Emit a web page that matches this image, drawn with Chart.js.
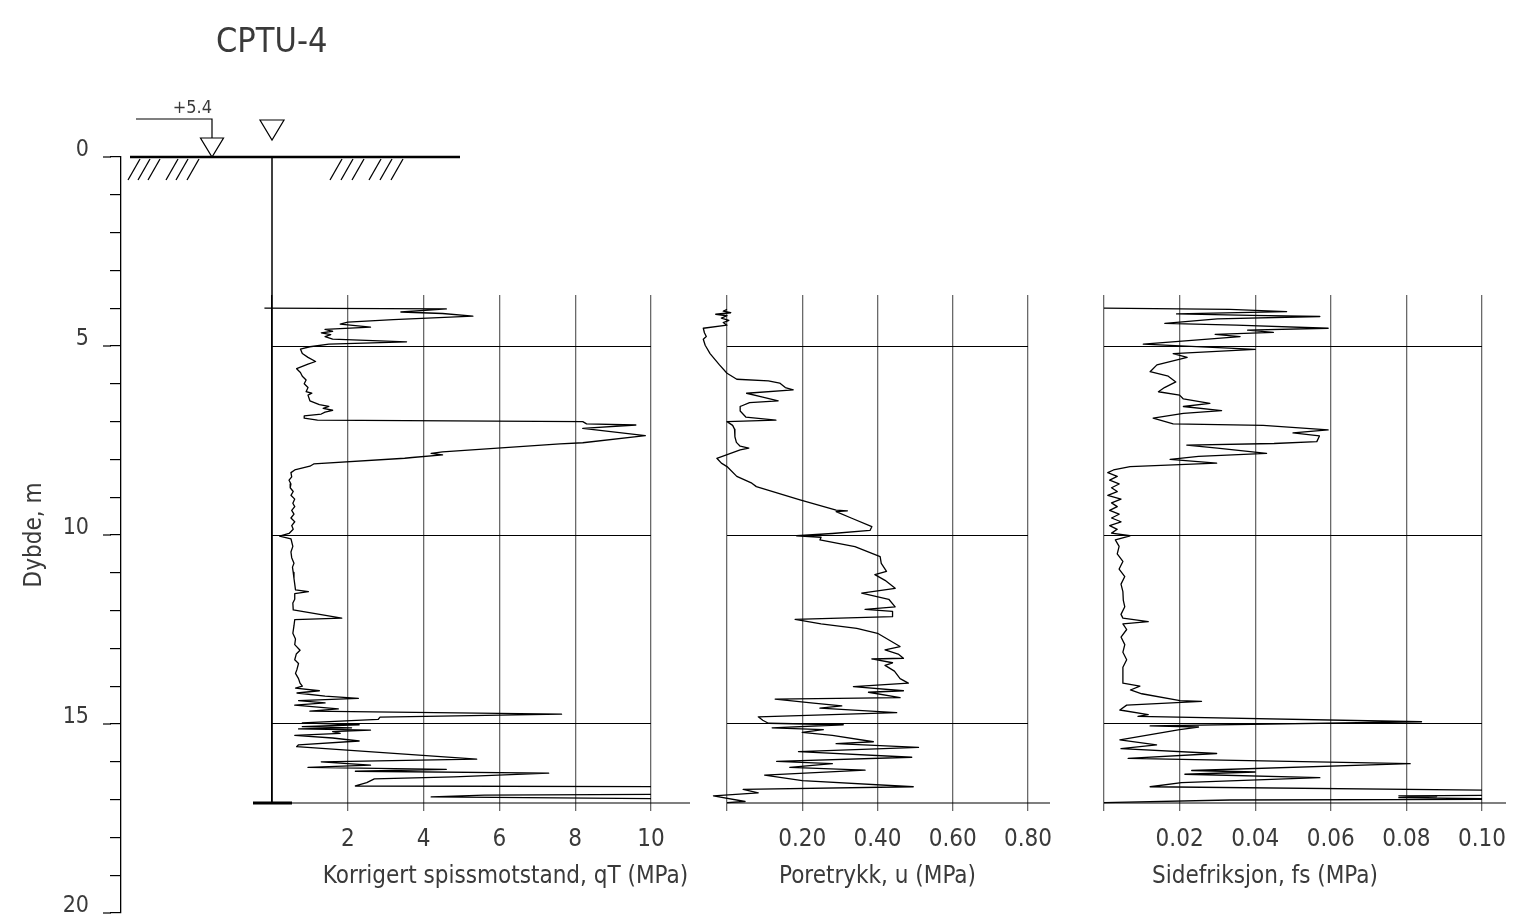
<!DOCTYPE html>
<html>
<head>
<meta charset="utf-8">
<title>CPTU-4</title>
<script src="https://cdn.jsdelivr.net/npm/chart.js@4.4.1/dist/chart.umd.min.js"></script>
<style>
  body { margin: 0; background: #fff; }
  #wrap { position: relative; width: 1514px; height: 919px; }
  #wrap canvas { position: absolute; left: 0; top: 0; }
</style>
</head>
<body>
<div id="wrap">
  <canvas id="depthChart" width="1514" height="919"></canvas>
  <canvas id="qtChart" width="1514" height="919"></canvas>
  <canvas id="uChart" width="1514" height="919"></canvas>
  <canvas id="fsChart" width="1514" height="919"></canvas>
</div>
<script>
// ---- data (depth in m) ----
var depthLabels = [0, 5, 10, 15, 20];
var gridDepths = [5, 10, 15];

var qtTicks = [0, 2, 4, 6, 8, 10];
var uTicks = [0, 0.2, 0.4, 0.6, 0.8];
var fsTicks = [0, 0.02, 0.04, 0.06, 0.08, 0.1];

// korrigert spissmotstand qT (MPa)
var qtDepth = [
  4.00, 4.02, 4.10, 4.14, 4.21, 4.30, 4.37, 4.42, 4.50, 4.56,
  4.61, 4.65, 4.70, 4.75, 4.82, 4.89, 4.95, 5.02, 5.08, 5.20,
  5.30, 5.41, 5.48, 5.60, 5.70, 5.80, 5.90, 6.00, 6.10, 6.21,
  6.25, 6.30, 6.45, 6.55, 6.60, 6.65, 6.70, 6.75, 6.80, 6.85,
  6.91, 6.96, 7.00, 7.06, 7.09, 7.18, 7.37, 7.56, 7.59, 7.80,
  7.84, 7.88, 7.95, 7.97, 8.12, 8.18, 8.28, 8.35, 8.46, 8.55,
  8.65, 8.75, 8.85, 8.95, 9.05, 9.16, 9.25, 9.35, 9.45, 9.55,
  9.65, 9.75, 9.85, 9.96, 10.03, 10.10, 10.30, 10.45, 10.60, 10.75,
  10.85, 10.99, 11.15, 11.30, 11.45, 11.50, 11.55, 11.70, 11.80, 11.98,
  12.20, 12.24, 12.40, 12.60, 12.75, 12.90, 13.05, 13.15, 13.30, 13.40,
  13.55, 13.66, 13.80, 13.92, 14.00, 14.05, 14.12, 14.18, 14.26, 14.32,
  14.38, 14.44, 14.50, 14.60, 14.66, 14.74, 14.82, 14.88, 14.97, 15.02,
  15.07, 15.10, 15.13, 15.16, 15.20, 15.25, 15.30, 15.37, 15.45, 15.55,
  15.60, 15.93, 16.00, 16.09, 16.15, 16.20, 16.25, 16.30, 16.40, 16.45,
  16.55, 16.64, 16.66, 16.85, 16.88, 16.93, 16.99, 17.05
];
var qtValue = [
  -0.2, 4.6, 3.4, 4.5, 5.3, 3.2, 2.0, 1.8, 2.6, 1.4,
  1.6, 1.3, 1.55, 1.4, 1.6, 3.55, 1.5, 1.0, 0.75, 0.8,
  0.95, 1.15, 0.95, 0.65, 0.75, 0.8, 0.9, 0.85, 0.95, 0.9,
  1.05, 0.95, 1.0, 1.25, 1.5, 1.35, 1.6, 1.4, 1.3, 0.85,
  0.85, 1.2, 8.2, 8.3, 9.6, 8.2, 9.85, 8.2, 7.6, 4.5,
  4.2, 4.5, 3.7, 3.5, 1.1, 1.0, 0.6, 0.5, 0.52, 0.45,
  0.5, 0.48, 0.56, 0.5, 0.6, 0.55, 0.6, 0.52, 0.58, 0.5,
  0.6, 0.52, 0.56, 0.45, 0.2, 0.5, 0.55, 0.5, 0.52, 0.58,
  0.54, 0.56, 0.58, 0.6, 0.62, 0.96, 0.6, 0.6, 0.55, 0.56,
  1.84, 0.6, 0.58, 0.55, 0.62, 0.6, 0.74, 0.64, 0.6, 0.7,
  0.66, 0.62, 0.7, 0.74, 0.8, 0.62, 1.25, 0.66, 1.4, 2.28,
  0.7, 1.4, 0.6, 1.75, 1.0, 7.64, 2.85, 2.8, 0.8, 2.3,
  0.8, 2.1, 0.7, 2.6, 1.6, 1.8, 0.6, 1.6, 2.3, 0.7,
  0.65, 5.4, 1.3, 2.6, 0.95, 4.6, 2.2, 7.3, 4.8, 2.7,
  2.5, 2.2, 12, 12, 5.6, 4.2, 12, 12
];

// poretrykk u (MPa)
var uDepth = [
  4.03, 4.08, 4.12, 4.16, 4.20, 4.26, 4.32, 4.38, 4.45, 4.53,
  4.65, 4.75, 4.82, 4.98, 5.20, 5.50, 5.72, 5.88, 5.92, 5.98,
  6.10, 6.16, 6.25, 6.35, 6.45, 6.50, 6.60, 6.72, 6.88, 6.96,
  7.00, 7.10, 7.20, 7.40, 7.55, 7.65, 7.70, 7.75, 7.97, 8.10,
  8.19, 8.45, 8.63, 8.72, 9.07, 9.34, 9.36, 9.38, 9.55, 9.78,
  9.88, 9.96, 10.02, 10.06, 10.13, 10.31, 10.57, 10.75, 10.96, 11.05,
  11.20, 11.41, 11.54, 11.70, 11.90, 11.97, 12.02, 12.16, 12.23, 12.35,
  12.47, 12.60, 12.95, 13.04, 13.15, 13.26, 13.28, 13.38, 13.45, 13.60,
  13.80, 13.92, 14.01, 14.12, 14.16, 14.30, 14.34, 14.45, 14.52, 14.58,
  14.70, 14.81, 14.90, 14.98, 15.02, 15.10, 15.15, 15.22, 15.30, 15.47,
  15.52, 15.62, 15.73, 15.88, 15.99, 16.05, 16.15, 16.22, 16.35, 16.50,
  16.66, 16.73, 16.82, 16.90, 17.05, 17.08
];
var uValue = [
  0.0, -0.01, 0.01, -0.03, 0.0, -0.015, 0.005, -0.01, 0.0, -0.063,
  -0.06, -0.055, -0.063, -0.058, -0.045, -0.02, 0.0, 0.026, 0.11, 0.14,
  0.155, 0.176, 0.052, 0.095, 0.136, 0.06, 0.035, 0.035, 0.05, 0.13,
  0.0, 0.015, 0.02, 0.021, 0.025, 0.035, 0.058, 0.035, -0.027, -0.015,
  0.0, 0.026, 0.066, 0.078, 0.194, 0.29, 0.32, 0.29, 0.33, 0.385,
  0.38, 0.28, 0.185, 0.25, 0.247, 0.34, 0.407, 0.41, 0.424, 0.393,
  0.42, 0.447, 0.358, 0.43, 0.447, 0.367, 0.44, 0.44, 0.181, 0.25,
  0.345, 0.4, 0.46, 0.42, 0.455, 0.469, 0.385, 0.44, 0.42, 0.445,
  0.46, 0.482, 0.336, 0.469, 0.376, 0.46, 0.128, 0.23, 0.305, 0.247,
  0.451, 0.083, 0.095, 0.11, 0.309, 0.12, 0.256, 0.2, 0.28, 0.389,
  0.29, 0.509, 0.19, 0.491, 0.132, 0.28, 0.167, 0.367, 0.1, 0.2,
  0.495, 0.043, 0.083, -0.036, 0.048, 0.0
];

// sidefriksjon fs (MPa)
var fsDepth = [
  4.00, 4.03, 4.09, 4.15, 4.19, 4.22, 4.28, 4.40, 4.45, 4.53,
  4.58, 4.64, 4.69, 4.75, 4.95, 5.09, 5.20, 5.30, 5.50, 5.68,
  5.80, 5.95, 6.10, 6.21, 6.30, 6.40, 6.52, 6.60, 6.71, 6.78,
  6.91, 7.06, 7.10, 7.22, 7.30, 7.38, 7.53, 7.58, 7.62, 7.70,
  7.84, 7.92, 8.00, 8.10, 8.19, 8.28, 8.35, 8.45, 8.55, 8.65,
  8.75, 8.85, 8.95, 9.05, 9.15, 9.25, 9.35, 9.45, 9.55, 9.65,
  9.75, 9.85, 9.95, 10.02, 10.13, 10.30, 10.50, 10.70, 10.90, 11.10,
  11.30, 11.50, 11.72, 11.90, 12.10, 12.20, 12.29, 12.35, 12.50, 12.70,
  12.90, 13.10, 13.30, 13.50, 13.70, 13.92, 14.00, 14.10, 14.20, 14.38,
  14.40, 14.50, 14.63, 14.75, 14.80, 14.94, 15.05, 15.08, 15.15, 15.42,
  15.55, 15.65, 15.78, 15.91, 16.05, 16.23, 16.27, 16.33, 16.42, 16.55,
  16.66, 16.76, 16.88, 16.90, 16.92, 16.95, 16.99, 17.01, 17.08
];
var fsValue = [
  0, 0.0333, 0.0483, 0.0192, 0.039, 0.0571, 0.03, 0.0161, 0.035, 0.0593,
  0.038, 0.0448, 0.0294, 0.036, 0.0104, 0.04, 0.0183, 0.022, 0.014, 0.0122,
  0.017, 0.019, 0.016, 0.0144, 0.02, 0.021, 0.028, 0.021, 0.0311, 0.021,
  0.013, 0.0183, 0.0421, 0.0593, 0.05, 0.057, 0.0563, 0.045, 0.0219, 0.03,
  0.043, 0.025, 0.0175, 0.0298, 0.0069, 0.0025, 0.001, 0.0035, 0.0015, 0.004,
  0.002, 0.0035, 0.001, 0.0045, 0.002, 0.0035, 0.0015, 0.004, 0.002, 0.0045,
  0.0015, 0.0035, 0.002, 0.0069, 0.003, 0.004, 0.0035, 0.005, 0.004, 0.0055,
  0.0045, 0.005, 0.0051, 0.0055, 0.0045, 0.005, 0.0117, 0.005, 0.006, 0.0045,
  0.0055, 0.005, 0.006, 0.005, 0.005, 0.005, 0.0095, 0.007, 0.01, 0.0201,
  0.0258, 0.006, 0.0042, 0.0117, 0.009, 0.084, 0.0122, 0.025, 0.02, 0.0042,
  0.0139, 0.0045, 0.0298, 0.0064, 0.081, 0.0232, 0.04, 0.0214, 0.0571, 0.0205,
  0.0122, 0.11, 0.11, 0.078, 0.088, 0.078, 0.11, 0.0333, 0
];

// ---- layout ----
var W = 1514, H = 919;
var FONT = '"DejaVu Sans Condensed", "Liberation Sans Narrow", sans-serif';
var TEXT = '#3a3a3a';
var DEPTH_TOP = 157, DEPTH_BOTTOM = 913;   // 0 m and 20 m
var PANEL_TOP = 295, PANEL_BOTTOM = 803;
var AXIS_H = 100;
var pxPerM = (DEPTH_BOTTOM - DEPTH_TOP) / 20;
var panelMinDepth = (PANEL_TOP - DEPTH_TOP) / pxPerM;
var panelMaxDepth = (PANEL_BOTTOM - DEPTH_TOP) / pxPerM;

function line(ctx, x1, y1, x2, y2) {
  ctx.beginPath();
  ctx.moveTo(x1, y1);
  ctx.lineTo(x2, y2);
  ctx.stroke();
}

// longer tick marks at every 5 m
var majorTicks = {
  id: 'majorTicks',
  afterDraw: function (chart) {
    var s = chart.scales.y, ctx = chart.ctx;
    ctx.save();
    ctx.strokeStyle = '#000';
    ctx.lineWidth = 1.2;
    depthLabels.forEach(function (v) {
      var y = s.getPixelForValue(v);
      line(ctx, s.right - 18, y, s.right - 10, y);
    });
    ctx.restore();
  }
};

// bottom line + axis title of a panel
var panelFrame = {
  id: 'panelFrame',
  afterDraw: function (chart, args, opts) {
    var ctx = chart.ctx, a = chart.chartArea;
    ctx.save();
    ctx.strokeStyle = '#000';
    ctx.lineWidth = 1.2;
    line(ctx, a.left - opts.extLeft, a.bottom, a.right + opts.extRight, a.bottom);
    ctx.fillStyle = TEXT;
    ctx.font = '24px ' + FONT;
    ctx.textAlign = 'center';
    ctx.textBaseline = 'middle';
    ctx.fillText(opts.title, (a.left + a.right) / 2 + opts.titleDx, 877);
    ctx.restore();
  }
};

// terrain, borehole and water level symbols, drawn with the qT panel
var groundPlugin = {
  id: 'ground',
  afterDraw: function (chart) {
    var ctx = chart.ctx;
    var x0 = chart.scales.x.getPixelForValue(0);
    var yTop = chart.scales.y.getPixelForValue(0);
    var yEnd = chart.chartArea.bottom;
    ctx.save();
    ctx.strokeStyle = '#000';
    ctx.lineWidth = 2.5;
    line(ctx, x0 - 142, yTop, x0 + 188, yTop);
    ctx.lineWidth = 1.3;
    [-144, -134, -124, -106, -96, -85, 58, 69, 80, 97, 108, 119].forEach(function (dx) {
      line(ctx, x0 + dx, yTop + 23, x0 + dx + 12, yTop + 2);
    });
    // borehole
    ctx.lineWidth = 1.5;
    line(ctx, x0, yTop, x0, yEnd);
    ctx.lineWidth = 3;
    line(ctx, x0 - 19, yEnd, x0 + 20, yEnd);
    // terrain level +5.4
    var tx = x0 - 60;
    ctx.lineWidth = 1.2;
    ctx.beginPath();
    ctx.moveTo(x0 - 136, yTop - 38);
    ctx.lineTo(tx, yTop - 38);
    ctx.lineTo(tx, yTop - 19);
    ctx.stroke();
    ctx.beginPath();
    ctx.moveTo(tx - 11.5, yTop - 19);
    ctx.lineTo(tx + 11.5, yTop - 19);
    ctx.lineTo(tx, yTop);
    ctx.closePath();
    ctx.stroke();
    // water level
    ctx.beginPath();
    ctx.moveTo(x0 - 12, yTop - 37);
    ctx.lineTo(x0 + 12, yTop - 37);
    ctx.lineTo(x0, yTop - 17);
    ctx.closePath();
    ctx.stroke();
    ctx.fillStyle = TEXT;
    ctx.textBaseline = 'alphabetic';
    ctx.textAlign = 'right';
    ctx.font = '18px ' + FONT;
    ctx.fillText('+5.4', tx, yTop - 44);
    ctx.textAlign = 'left';
    ctx.font = '34px ' + FONT;
    ctx.fillText('CPTU-4', x0 - 56, 52);
    ctx.restore();
  }
};

// depth axis
new Chart(document.getElementById('depthChart'), {
  type: 'line',
  data: { datasets: [] },
  options: {
    responsive: false,
    animation: false,
    devicePixelRatio: 1,
    layout: { padding: { left: 0, right: 0, top: DEPTH_TOP, bottom: H - DEPTH_BOTTOM } },
    plugins: { legend: { display: false }, tooltip: { enabled: false } },
    scales: {
      x: { type: 'linear', display: false, min: 0, max: 1 },
      y: {
        type: 'linear',
        position: 'left',
        reverse: true,
        min: 0,
        max: 20,
        afterFit: function (s) { s.width = 121; s.paddingTop = 0; s.paddingBottom = 0; },
        ticks: {
          stepSize: 1,
          autoSkip: false,
          padding: 21,
          labelOffset: -7,
          color: TEXT,
          font: { family: FONT, size: 23 },
          callback: function (v) { return depthLabels.indexOf(v) >= 0 ? String(v) : ''; }
        },
        grid: { drawOnChartArea: false, drawTicks: true, tickLength: 11, color: '#000', lineWidth: 1.2 },
        border: { display: true, color: '#000', width: 1.3 },
        title: { display: true, text: 'Dybde, m', color: TEXT, font: { family: FONT, size: 24 }, padding: { top: 20, bottom: 0 } }
      }
    }
  },
  plugins: [majorTicks]
});

function panelChart(id, depth, values, cfg) {
  var points = depth.map(function (d, i) { return { x: values[i], y: d }; });
  var isZero = function (c) { return cfg.darkZero && c.tick && c.tick.value === 0; };
  return new Chart(document.getElementById(id), {
    type: 'line',
    data: {
      datasets: [{
        data: points,
        borderColor: '#000',
        borderWidth: 1.3,
        borderJoinStyle: 'round',
        pointRadius: 0,
        tension: 0,
        fill: false,
        clip: cfg.clip
      }]
    },
    options: {
      responsive: false,
      animation: false,
      devicePixelRatio: 1,
      indexAxis: 'y',
      layout: { padding: { left: cfg.left, right: W - cfg.right, top: PANEL_TOP, bottom: H - PANEL_BOTTOM - AXIS_H } },
      plugins: {
        legend: { display: false },
        tooltip: { enabled: false },
        panelFrame: { title: cfg.title, titleDx: cfg.titleDx, extLeft: cfg.extLeft, extRight: cfg.extRight }
      },
      scales: {
        x: {
          type: 'linear',
          min: cfg.ticks[0],
          max: cfg.ticks[cfg.ticks.length - 1],
          afterBuildTicks: function (s) { s.ticks = cfg.ticks.map(function (v) { return { value: v }; }); },
          afterFit: function (s) { s.height = AXIS_H; s.paddingLeft = 0; s.paddingRight = 0; },
          ticks: {
            padding: 14,
            color: TEXT,
            font: { family: FONT, size: 24 },
            callback: function (v) { return v === 0 ? '' : cfg.format(v); }
          },
          grid: {
            color: function (c) { return isZero(c) ? '#000' : '#6a6a6a'; },
            tickColor: function (c) { return isZero(c) ? 'rgba(0,0,0,0)' : '#6a6a6a'; },
            lineWidth: 1.3,
            tickLength: 8
          },
          border: { display: false }
        },
        y: {
          type: 'linear',
          reverse: true,
          min: panelMinDepth,
          max: panelMaxDepth,
          afterBuildTicks: function (s) { s.ticks = gridDepths.map(function (v) { return { value: v }; }); },
          afterFit: function (s) { s.width = 0; },
          ticks: { display: false },
          grid: { color: '#000', lineWidth: 1, drawTicks: false },
          border: { display: false }
        }
      }
    },
    plugins: cfg.plugins
  });
}

panelChart('qtChart', qtDepth, qtValue, {
  left: 272, right: 651, ticks: qtTicks,
  format: function (v) { return String(v); },
  title: 'Korrigert spissmotstand, qT (MPa)', titleDx: 44,
  extLeft: 19, extRight: 39, darkZero: true,
  clip: { left: 12, top: 0, right: 0, bottom: 2 },
  plugins: [panelFrame, groundPlugin]
});

panelChart('uChart', uDepth, uValue, {
  left: 727, right: 1028, ticks: uTicks,
  format: function (v) { return v.toFixed(2); },
  title: 'Poretrykk, u (MPa)', titleDx: 0,
  extLeft: 0, extRight: 22, darkZero: false,
  clip: { left: 40, top: 0, right: 0, bottom: 2 },
  plugins: [panelFrame]
});

panelChart('fsChart', fsDepth, fsValue, {
  left: 1104, right: 1482, ticks: fsTicks,
  format: function (v) { return v.toFixed(2); },
  title: 'Sidefriksjon, fs (MPa)', titleDx: -28,
  extLeft: 0, extRight: 24, darkZero: false,
  clip: { left: 10, top: 0, right: 0, bottom: 2 },
  plugins: [panelFrame]
});
</script>
</body>
</html>
